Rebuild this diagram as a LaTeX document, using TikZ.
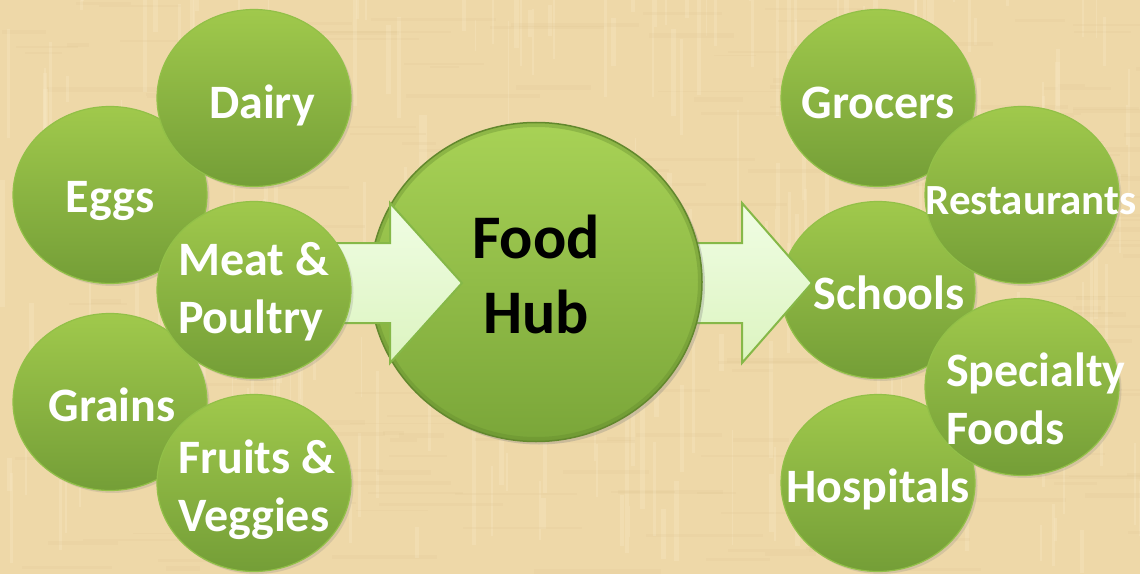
\documentclass[tikz,border=0pt]{standalone}
\usepackage{fontspec}
\setsansfont{Carlito}
\usepackage{tikz}
\usetikzlibrary{calc}
\usetikzlibrary{positioning}
\usetikzlibrary{shapes}
\usetikzlibrary{shadows}
\newcommand{\TikZscale}{1}
\newcommand{\px}{*\TikZscale pt}
\definecolor{paper}{RGB}{238,216,168}
\definecolor{paperlight}{RGB}{248,234,198}
\definecolor{paperdark}{RGB}{220,194,142}
\definecolor{bubbletop}{RGB}{160,201,76}
\definecolor{bubblebottom}{RGB}{116,158,55}
\definecolor{bubbleedge}{RGB}{146,192,72}
\definecolor{hubtop}{RGB}{168,210,86}
\definecolor{hubbottom}{RGB}{122,166,57}
\definecolor{hubedge}{RGB}{98,136,45}
\definecolor{arrowtop}{RGB}{240,253,228}
\definecolor{arrowbottom}{RGB}{220,244,192}
\definecolor{arrowedge}{RGB}{134,184,72}
\tikzset{every picture/.style={node distance=5\px}}
\tikzstyle{bubble}     = [ellipse, minimum width=194\px, minimum height=177\px, inner sep=0pt,
                          draw=bubbleedge, line width=1.2\px, top color=bubbletop, bottom color=bubblebottom,
                          drop shadow={opacity=0.22, shadow xshift=2.5\px, shadow yshift=-2.5\px}]
\tikzstyle{hub}        = [ellipse, minimum width=332\px, minimum height=319\px, inner sep=0pt,
                          draw=hubedge, line width=1.5\px, top color=hubtop, bottom color=hubbottom,
                          drop shadow={opacity=0.3, shadow xshift=3\px, shadow yshift=-3\px}]
\tikzstyle{bubbletext} = [font=\sffamily\bfseries\fontsize{48}{58}\selectfont, text=white, align=left, inner sep=0pt]
\tikzstyle{hubtext}    = [font=\sffamily\bfseries\fontsize{62}{75}\selectfont, text=black, align=center, inner sep=0pt]
\tikzstyle{flow}       = [draw=arrowedge, line width=2\px, line join=miter, top color=arrowtop, bottom color=arrowbottom]

\begin{document}
\begin{tikzpicture}
	\useasboundingbox (0,0) rectangle (1140\px,574\px);

	% Papier
	\begin{scope}
		\clip (0,0) rectangle (1140\px,574\px);
		\fill[paper] (0,0) rectangle (1140\px,574\px);
		\pgfmathsetseed{17}
		\foreach \k in {1,...,260}{
			\pgfmathsetmacro{\xa}{rnd*1140}
			\pgfmathsetmacro{\ya}{rnd*574}
			\pgfmathsetmacro{\wa}{1+rnd*4}
			\pgfmathsetmacro{\ha}{20+rnd*120}
			\fill[paperlight, opacity=0.3] (\xa\px,\ya\px) rectangle ++(\wa\px,\ha\px);
			\fill[paperdark, opacity=0.15] (\ya*2\px,\xa*0.5\px) rectangle ++(\ha\px,\wa\px);
		}
	\end{scope}

	% Fixpunkte
	\coordinate (hubc)     at (536\px,292\px);
	\coordinate (in tail)  at (300\px,291\px);
	\coordinate (in tip)   at (462\px,291\px);
	\coordinate (out tail) at (536\px,291\px);
	\coordinate (out tip)  at (812\px,291\px);

	% Erzeuger (hinten)
	\node[bubble] (eggs)   at (110\px,379\px) {};
	\node[bubble] (grains) at (110\px,172\px) {};
	\node[bubble] (dairy)  at (254\px,476\px) {};
	\node[bubbletext] (eggs text)   at ([yshift=-6\px]eggs) {Eggs};
	\node[bubbletext] (grains text) at ([xshift=2\px,yshift=-3\px]grains) {Grains};
	\node[bubbletext] (dairy text)  at ([xshift=8\px,yshift=-7\px]dairy) {Dairy};

	% Abnehmer
	\node[bubble] (grocers)     at (878\px,476\px) {};
	\node[bubble] (schools)     at (878\px,284\px) {};
	\node[bubble] (hospitals)   at (878\px,91\px)  {};
	\node[bubble] (restaurants) at (1022\px,379\px) {};
	\node[bubble] (specialty)   at (1022\px,187\px) {};

	% Pfeil nach aussen
	\draw[flow] ($(out tail)+(0,40\px)$) -- ($(out tip)+(-70\px,40\px)$) -- ++(0,40\px) -- (out tip)
		-- ($(out tip)+(-70\px,-80\px)$) -- ++(0,40\px) -- ($(out tail)+(0,-40\px)$) -- cycle;

	\node[bubbletext] (grocers text)     at ([yshift=-5\px]grocers) {Grocers};
	\node[bubbletext] (schools text)     at ([xshift=11\px,yshift=-3\px]schools) {Schools};
	\node[bubbletext] (hospitals text)   at ([yshift=-6\px]hospitals) {Hospitals};
	\node[bubbletext, font=\sffamily\bfseries\fontsize{43}{52}\selectfont] (restaurants text)
		at ([xshift=9\px,yshift=-6\px]restaurants) {Restaurants};
	\node[bubbletext, anchor=west] (specialty text) at ([xshift=-76\px,yshift=-12\px]specialty) {Specialty\\Foods};

	% Hub
	\node[hub] (hub) at (hubc) {};
	\draw[hubedge, line width=4\px, opacity=0.35] (hub.center) ellipse [x radius=164\px, y radius=157\px];
	\node[hubtext] (hub text) at ([yshift=8\px]hub) {Food\\Hub};

	% Pfeil nach innen
	\draw[flow] ($(in tail)+(0,40\px)$) -- ($(in tip)+(-72\px,40\px)$) -- ++(0,40\px) -- (in tip)
		-- ($(in tip)+(-72\px,-80\px)$) -- ++(0,40\px) -- ($(in tail)+(0,-40\px)$) -- cycle;

	% Erzeuger (vorne)
	\node[bubble] (meat)   at (254\px,284\px) {};
	\node[bubble] (fruits) at (254\px,91\px)  {};
	\node[bubbletext, anchor=west] (meat text)   at ([xshift=-76\px,yshift=-2\px]meat) {Meat \&\\Poultry};
	\node[bubbletext, anchor=west] (fruits text) at ([xshift=-76\px,yshift=-7\px]fruits) {Fruits \&\\Veggies};
\end{tikzpicture}
\end{document}
